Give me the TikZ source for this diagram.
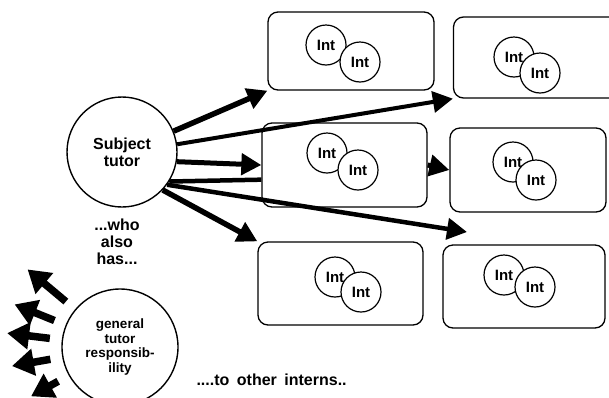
\documentclass[tikz,border=0pt]{standalone}
\usepackage{fontspec}
\setsansfont{Liberation Sans}
\usetikzlibrary{arrows.meta}

\begin{document}
\begin{tikzpicture}[x=1pt,y=-1pt,
    tutor/.style={circle, draw, line width=1.4pt, align=center, inner sep=0pt,
      font=\sffamily\bfseries\fontsize{16}{17}\selectfont},
    words/.style={align=center, font=\sffamily\bfseries\fontsize{16}{17}\selectfont},
    ibox/.style={draw, rounded corners=10pt, line width=1.3pt},
    intern/.style={circle, draw, fill=white, line width=1.2pt, minimum size=40pt,
      inner sep=0pt, font=\sffamily\bfseries\fontsize{15}{15}\selectfont},
    fat/.style={line width=5pt, -{Triangle[length=20pt,width=21pt]}},
    fan/.style={line width=7.5pt, -{Triangle[length=22pt,width=26pt]}}]
  \useasboundingbox (0,0) rectangle (609,397);

  % the tutor and what he also carries
  \node[tutor, minimum size=110pt] (sT) at (122,152) {Subject\\tutor};
  \node[words] (who) at (117,242) {...who\\also\\has...};
  \node[tutor, minimum size=116pt, font=\sffamily\bfseries\fontsize{13.5}{14.5}\selectfont]
    (gT) at (120,347) {general\\tutor\\responsib-\\ility};
  \node[words, anchor=west, font=\sffamily\bfseries\fontsize{16}{16}\selectfont]
    (other) at (193,380) {\spaceskip 7.5pt\relax ....to other interns..};

  % intern groups
  \node[ibox, minimum width=166pt, minimum height=78pt] (bTL) at (351,51) {};
  \node[ibox, minimum width=167pt, minimum height=81pt] (bTR) at (537,57.5) {};
  \node[ibox, minimum width=165pt, minimum height=84pt] (bML) at (344.5,165) {};
  \node[ibox, minimum width=156pt, minimum height=84pt] (bMR) at (528,170) {};
  \node[ibox, minimum width=165pt, minimum height=83pt] (bBL) at (340.5,283.5) {};
  \node[ibox, minimum width=162pt, minimum height=83pt] (bBR) at (524,286.5) {};

  \foreach \n/\xa/\ya/\xb/\yb in {TL/326/45/360/62, TR/514/57/540/73,
      ML/327/153/358/170, MR/513/162/536/180, BL/335/277/361/292, BR/504/275/535/287} {
    \node[intern] (i\n a) at (\xa,\ya) {Int};
    \node[intern] (i\n b) at (\xb,\yb) {Int};
  }

  % assignments
  \coordinate (gap) at (467,232);
  \draw[fat, line width=5.5pt] (sT.22) -- (bTL.south west);
  \draw[fat, line width=4pt] (sT.8) -- (bTR.south west);
  \draw[fat] (sT.-10) -- (bML.west);
  \draw[line width=4.5pt] (sT.-32) -- (bML.190);
  \draw[fat, line width=4.5pt] (sT.-36) -- (gap);
  \draw[fat, line width=5.5pt] (sT.-43) -- (bBL.north west);
  \draw[fat] (bML.east) -- (bMR.west);

  % angle / length of each outward arrow
  \foreach \a/\l in {140/62, 158/55, 173/55, 190/51, 209/43}
    \draw[fan, shorten <=12pt] (gT.\a) -- +(\a:\l pt);
\end{tikzpicture}
\end{document}
